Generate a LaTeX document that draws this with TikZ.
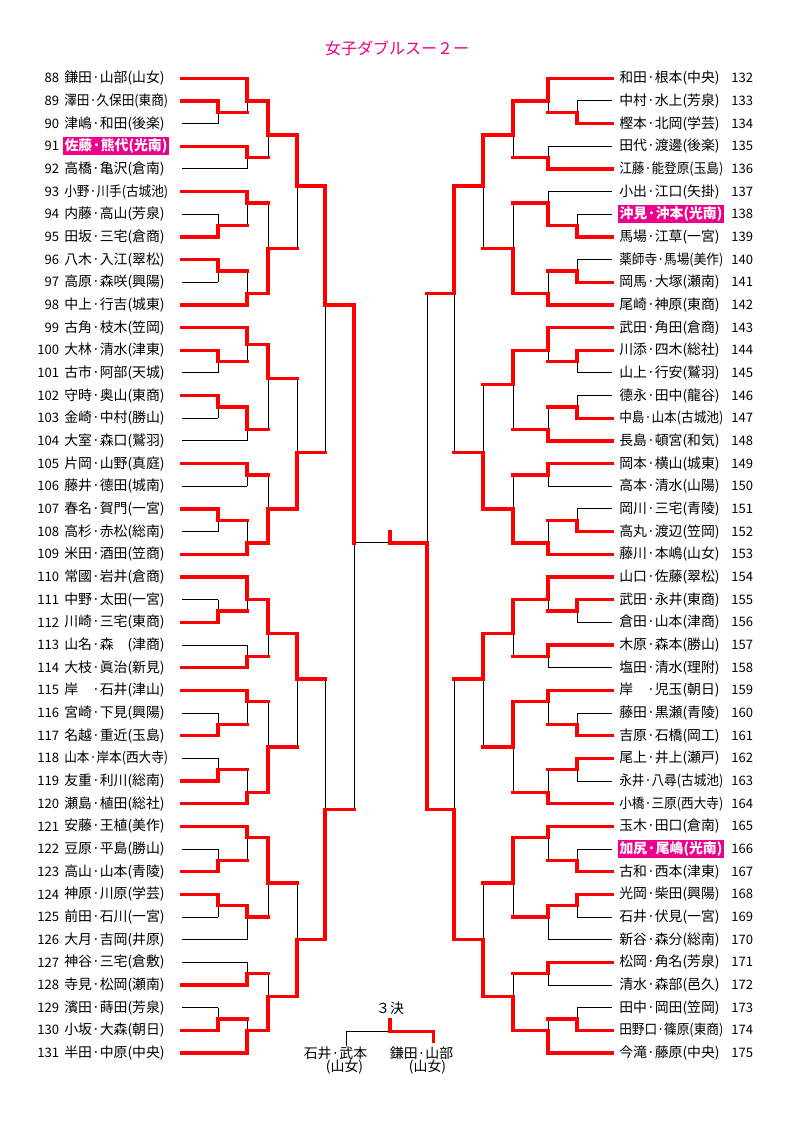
\documentclass[tikz,border=0pt]{standalone}
\usepackage{fontspec}
\usepackage{graphicx}
\setmainfont{Noto Sans CJK JP}
\newsavebox\nmbox
\newcommand\fitname[1]{\sbox\nmbox{#1}\ifdim\wd\nmbox>78pt\resizebox{78pt}{\ht\nmbox}{\usebox\nmbox}\else\usebox\nmbox\fi}
\begin{document}
\begin{tikzpicture}[x=0.75pt,y=-0.75pt,
  win/.style={draw=red,line width=2.4pt,line cap=rect},
  lose/.style={draw=black,line width=0.75pt},
  numtxt/.style={inner sep=0pt,font=\fontsize{9.8pt}{11pt}\selectfont},
  txt/.style={inner sep=0pt,font=\fontsize{10.4pt}{12pt}\selectfont},
  hltxt/.style={inner xsep=1pt,inner ysep=1.2pt,fill=magenta,text=white,font=\fontsize{10.4pt}{12pt}\selectfont\bfseries}]
\useasboundingbox (0,0) rectangle (794,1123);
\fill[white] (0,0) rectangle (794,1123);

% ---------- data ----------
% entries: q / end column / won first match
\def\LeftEntries{0/247/1,4/218/1,8/218/0,12/247/1,16/247/0,20/247/1,24/218/0,28/218/1,32/218/1,36/218/0,40/247/1,44/247/1,48/218/1,52/218/0,56/218/1,60/218/0,64/247/0,68/247/1,72/247/0,76/218/1,80/218/0,84/247/1,88/247/1,92/218/0,96/218/1,100/247/0,104/247/1,108/247/1,112/218/0,116/218/1,120/218/0,124/218/1,128/247/1,132/247/1,136/218/0,140/218/1,144/218/1,148/218/0,152/247/0,156/247/0,160/247/1,164/218/0,168/218/1,172/247/1}
\def\RightEntries{0/548/1,4/577/0,8/577/1,12/548/0,16/548/1,20/548/0,24/577/0,28/577/1,32/577/0,36/577/1,40/548/1,44/548/1,48/577/1,52/577/0,56/577/0,60/577/1,64/548/1,68/548/1,72/548/0,76/577/0,80/577/1,84/548/1,88/548/1,92/577/1,96/577/0,100/548/1,104/548/0,108/548/1,112/577/0,116/577/1,120/577/1,124/577/0,128/548/1,132/548/1,136/577/0,140/577/1,144/577/1,148/577/0,152/548/0,156/548/1,160/548/0,164/577/0,168/577/1,172/548/1}
% junctions: x / next x / top q / bottom q / out q / winner (1 top, 2 bottom)
\def\LeftJ{218/247/4/8/6/1,218/247/24/28/26/2,218/247/32/36/34/1,218/247/48/52/50/1,218/247/56/60/58/1,218/247/76/80/78/1,218/247/92/96/94/2,218/247/112/116/114/2,218/247/120/124/122/2,218/247/136/140/138/2,218/247/144/148/146/1,218/247/164/168/166/2,
247/268/0/6/4/1,247/268/12/16/14/1,247/268/20/26/22/1,247/268/34/40/38/2,247/268/44/50/47/1,247/268/58/64/62/1,247/268/68/72/70/1,247/268/78/84/82/2,247/268/88/94/92/1,247/268/100/104/102/2,247/268/108/114/110/1,247/268/122/128/126/2,247/268/132/138/134/1,247/268/146/152/148/1,247/268/156/160/158/2,247/268/166/172/168/2,
268/297/4/14/10/1,268/297/22/38/30/2,268/297/47/62/53/1,268/297/70/82/76/2,268/297/92/102/98/1,268/297/110/126/118/2,268/297/134/148/142/1,268/297/158/168/162/2,
297/325/10/30/19/1,297/325/53/76/66/2,297/325/98/118/106/1,297/325/142/162/152/2,
325/354/19/66/40/1,325/354/106/152/129/2,
354/354/40/129/82/1}
\def\RightJ{577/548/4/8/6/2,577/548/24/28/26/2,577/548/32/36/34/2,577/548/48/52/50/1,577/548/56/60/58/2,577/548/76/80/78/2,577/548/92/96/94/1,577/548/112/116/114/2,577/548/120/124/122/1,577/548/136/140/138/2,577/548/144/148/146/1,577/548/164/168/166/2,
548/513/0/6/4/1,548/513/12/16/14/2,548/513/20/26/22/2,548/513/34/40/38/2,548/513/44/50/48/1,548/513/58/64/62/2,548/513/68/72/70/1,548/513/78/84/82/2,548/513/88/94/92/1,548/513/100/104/102/1,548/513/108/114/110/1,548/513/122/128/126/2,548/513/132/138/134/1,548/513/146/152/148/1,548/513/156/160/158/1,548/513/166/172/168/2,
513/483/4/14/10/1,513/483/22/38/30/2,513/483/48/62/54/1,513/483/70/82/76/2,513/483/92/102/98/1,513/483/110/126/118/1,513/483/134/148/142/1,513/483/158/168/162/2,
483/454/10/30/19/1,483/454/54/76/66/2,483/454/98/118/106/1,483/454/142/162/152/2,
454/427/19/66/38/1,454/427/106/152/129/2,
427/390/38/129/82/2}

% ---------- black (lost) lines ----------
\foreach \q/\xe/\w in \LeftEntries {\ifnum\w=0 \draw[lose] (182,{78.3+5.667*\q}) -- (\xe,{78.3+5.667*\q});\fi}
\foreach \q/\xe/\w in \RightEntries {\ifnum\w=0 \draw[lose] (612,{78.3+5.667*\q}) -- (\xe,{78.3+5.667*\q});\fi}
\foreach \x/\nx/\t/\b/\o/\w in \LeftJ {\ifnum\w=1 \draw[lose] (\x,{78.3+5.667*\o}) -- (\x,{78.3+5.667*\b});\else \draw[lose] (\x,{78.3+5.667*\t}) -- (\x,{78.3+5.667*\o});\fi}
\foreach \x/\nx/\t/\b/\o/\w in \RightJ {\ifnum\w=1 \draw[lose] (\x,{78.3+5.667*\o}) -- (\x,{78.3+5.667*\b});\else \draw[lose] (\x,{78.3+5.667*\t}) -- (\x,{78.3+5.667*\o});\fi}
\coordinate (lfin) at (354,{78.3+5.667*82});
\coordinate (mid) at (390,{78.3+5.667*82});
\coordinate (midtop) at (390,532);
\draw[lose] (lfin) -- (mid);

% ---------- red (won) lines ----------
\foreach \q/\xe/\w in \LeftEntries {\ifnum\w=1 \draw[win] (182,{78.3+5.667*\q}) -- (\xe,{78.3+5.667*\q});\fi}
\foreach \q/\xe/\w in \RightEntries {\ifnum\w=1 \draw[win] (612,{78.3+5.667*\q}) -- (\xe,{78.3+5.667*\q});\fi}
\foreach \x/\nx/\t/\b/\o/\w in \LeftJ {\ifnum\w=1 \draw[win] (\x,{78.3+5.667*\t}) -- (\x,{78.3+5.667*\o}) -- (\nx,{78.3+5.667*\o});\else \draw[win] (\x,{78.3+5.667*\b}) -- (\x,{78.3+5.667*\o}) -- (\nx,{78.3+5.667*\o});\fi}
\foreach \x/\nx/\t/\b/\o/\w in \RightJ {\ifnum\w=1 \draw[win] (\x,{78.3+5.667*\t}) -- (\x,{78.3+5.667*\o}) -- (\nx,{78.3+5.667*\o});\else \draw[win] (\x,{78.3+5.667*\b}) -- (\x,{78.3+5.667*\o}) -- (\nx,{78.3+5.667*\o});\fi}
\draw[win] (midtop) -- (mid);

% ---------- title ----------
\node[inner sep=0pt,font=\fontsize{12pt}{14pt}\selectfont,text=magenta] (title) at (397,48) {女子ダブルスー２ー};

% ---------- left names ----------
\foreach \n/\t/\h in {88/鎌田·山部(山女)/0,89/澤田·久保田(東商)/0,90/津嶋·和田(後楽)/0,91/佐藤·熊代(光南)/1,92/高橋·亀沢(倉南)/0,93/小野·川手(古城池)/0,94/内藤·高山(芳泉)/0,95/田坂·三宅(倉商)/0,96/八木·入江(翠松)/0,97/高原·森咲(興陽)/0,98/中上·行吉(城東)/0,99/古角·枝木(笠岡)/0,100/大林·清水(津東)/0,101/古市·阿部(天城)/0,102/守時·奥山(東商)/0,103/金崎·中村(勝山)/0,104/大室·森口(鷲羽)/0,105/片岡·山野(真庭)/0,106/藤井·德田(城南)/0,107/春名·賀門(一宮)/0,108/高杉·赤松(総南)/0,109/米田·酒田(笠商)/0,110/常國·岩井(倉商)/0,111/中野·太田(一宮)/0,112/川崎·三宅(東商)/0,113/山名·森　(津商)/0,114/大枝·眞治(新見)/0,115/岸　·石井(津山)/0,116/宮崎·下見(興陽)/0,117/名越·重近(玉島)/0,118/山本·岸本(西大寺)/0,119/友重·利川(総南)/0,120/瀬島·植田(総社)/0,121/安藤·王植(美作)/0,122/豆原·平島(勝山)/0,123/高山·山本(青陵)/0,124/神原·川原(学芸)/0,125/前田·石川(一宮)/0,126/大月·吉岡(井原)/0,127/神谷·三宅(倉敷)/0,128/寺見·松岡(瀬南)/0,129/濱田·蒔田(芳泉)/0,130/小坂·大森(朝日)/0,131/半田·中原(中央)/0}{
  \pgfmathsetmacro\yy{78.3+22.667*(\n-88)}
  \node[numtxt,anchor=east] (num\n) at (59.5,\yy) {\n};
  \ifnum\h=1 \node[hltxt,anchor=west] (name\n) at (63,\yy) {\fitname{\t}};
  \else \node[txt,anchor=west] (name\n) at (64,\yy) {\fitname{\t}};\fi
}
% ---------- right names ----------
\foreach \n/\t/\h in {132/和田·根本(中央)/0,133/中村·水上(芳泉)/0,134/樫本·北岡(学芸)/0,135/田代·渡邊(後楽)/0,136/江藤·能登原(玉島)/0,137/小出·江口(矢掛)/0,138/沖見·沖本(光南)/1,139/馬場·江草(一宮)/0,140/薬師寺·馬場(美作)/0,141/岡馬·大塚(瀬南)/0,142/尾崎·神原(東商)/0,143/武田·角田(倉商)/0,144/川添·四木(総社)/0,145/山上·行安(鷲羽)/0,146/德永·田中(龍谷)/0,147/中島·山本(古城池)/0,148/長島·頓宮(和気)/0,149/岡本·横山(城東)/0,150/高本·清水(山陽)/0,151/岡川·三宅(青陵)/0,152/高丸·渡辺(笠岡)/0,153/藤川·本嶋(山女)/0,154/山口·佐藤(翠松)/0,155/武田·永井(東商)/0,156/倉田·山本(津商)/0,157/木原·森本(勝山)/0,158/塩田·清水(理附)/0,159/岸　·児玉(朝日)/0,160/藤田·黒瀬(青陵)/0,161/吉原·石橋(岡工)/0,162/尾上·井上(瀬戸)/0,163/永井·八尋(古城池)/0,164/小橋·三原(西大寺)/0,165/玉木·田口(倉南)/0,166/加尻·尾嶋(光南)/1,167/古和·西本(津東)/0,168/光岡·柴田(興陽)/0,169/石井·伏見(一宮)/0,170/新谷·森分(総南)/0,171/松岡·角名(芳泉)/0,172/清水·森部(邑久)/0,173/田中·岡田(笠岡)/0,174/田野口·篠原(東商)/0,175/今滝·藤原(中央)/0}{
  \pgfmathsetmacro\yy{78.3+22.667*(\n-132)}
  \node[numtxt,anchor=west] (num\n) at (731,\yy) {\n};
  \ifnum\h=1 \node[hltxt,anchor=west] (name\n) at (618,\yy) {\fitname{\t}};
  \else \node[txt,anchor=west] (name\n) at (619,\yy) {\fitname{\t}};\fi
}

% ---------- 3rd place ----------
\node[txt] (sanketsu) at (390,1008) {３決};
\coordinate (s3) at (390,1020);
\coordinate (s3m) at (390,1031.7);
\coordinate (s3l) at (346.7,1031.7);
\coordinate (s3r) at (433.3,1031.7);
\node[txt] (p1) at (335.5,1053) {石井·武本};
\node[txt] (p1s) at (344.5,1067) {(山女)};
\node[txt] (p2) at (421.5,1053) {鎌田·山部};
\node[txt] (p2s) at (427.5,1067) {(山女)};
\draw[lose] (s3m) -- (s3l) -- (346.7,1046);
\draw[win] (s3) -- (s3m) -- (s3r) -- (433.3,1041.7);
\end{tikzpicture}
\end{document}
